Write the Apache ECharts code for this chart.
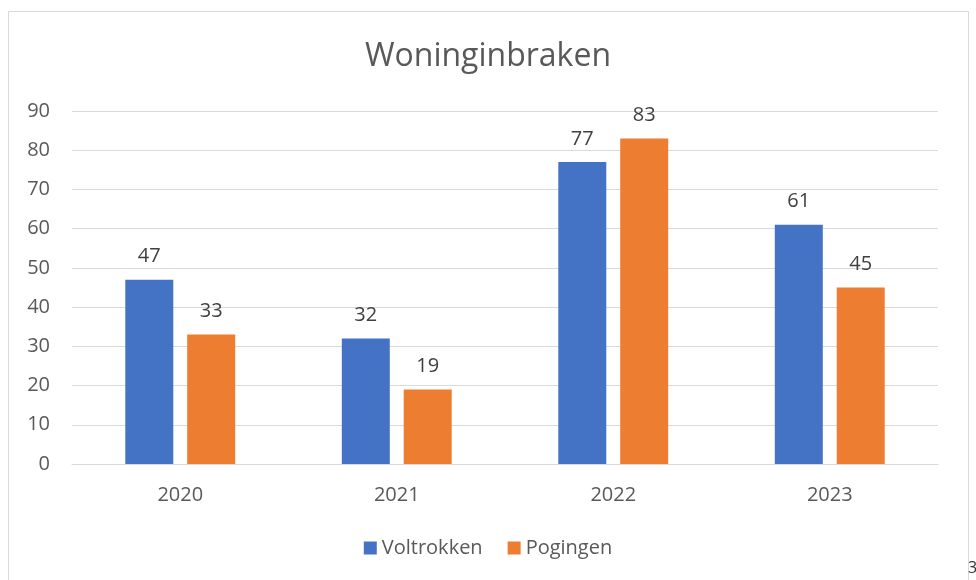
<!DOCTYPE html>
<html>
<head>
<meta charset="utf-8">
<script src="https://cdn.jsdelivr.net/npm/echarts@6/dist/echarts.min.js"></script>
<style>
  html, body { margin: 0; padding: 0; background: #fff; }
  #chart { width: 976px; height: 580px; }
</style>
</head>
<body>
<div id="chart"></div>
<script>
// data
const years = ['2020', '2021', '2022', '2023']
const voltrokken = [47, 32, 77, 61]
const pogingen = [33, 19, 83, 45]

const textColor = '#595959'
const font = '"Open Sans", sans-serif'

const chart = echarts.init(document.getElementById('chart'))
chart.setOption({
  animation: false,
  textStyle: { fontFamily: font },
  title: {
    text: 'Woninginbraken',
    left: 'center',
    top: 36,
    textStyle: { fontSize: 32, fontWeight: 'normal', color: textColor, fontFamily: font }
  },
  graphic: [
    {
      type: 'rect',
      shape: { x: 8.5, y: 11.5, width: 960, height: 600 },
      style: { fill: 'none', stroke: '#d9d9d9', lineWidth: 1 },
      silent: true
    },
    {
      type: 'text',
      left: 968,
      top: 560,
      style: { text: '3', fontSize: 16, fill: '#333', fontFamily: font }
    }
  ],
  legend: {
    bottom: 17,
    left: 'center',
    itemWidth: 13,
    itemHeight: 13,
    itemGap: 25,
    icon: 'rect',
    textStyle: { fontSize: 20, color: textColor, fontFamily: font }
  },
  grid: { left: 72, right: 38, top: 111, bottom: 116 },
  xAxis: {
    type: 'category',
    data: years,
    axisTick: { show: false },
    axisLine: { lineStyle: { color: '#d9d9d9', width: 1 } },
    axisLabel: { fontSize: 20, color: textColor, margin: 21, fontFamily: font }
  },
  yAxis: {
    type: 'value',
    min: 0,
    max: 90,
    interval: 10,
    axisLine: { show: false },
    axisTick: { show: false },
    splitLine: { lineStyle: { color: '#d9d9d9', width: 1 } },
    axisLabel: { fontSize: 20, color: textColor, margin: 22, fontFamily: font }
  },
  series: [
    {
      name: 'Voltrokken',
      type: 'bar',
      data: voltrokken,
      barWidth: 48,
      barGap: '29%',
      itemStyle: { color: '#4472C4' },
      label: { show: true, position: 'top', distance: 13, fontSize: 20, color: '#404040', fontFamily: font }
    },
    {
      name: 'Pogingen',
      type: 'bar',
      data: pogingen,
      barWidth: 48,
      itemStyle: { color: '#ED7D31' },
      label: { show: true, position: 'top', distance: 13, fontSize: 20, color: '#404040', fontFamily: font }
    }
  ]
})
</script>
</body>
</html>
